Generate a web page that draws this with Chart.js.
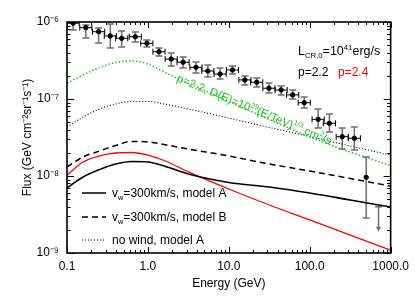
<!DOCTYPE html>
<html>
<head>
<meta charset="utf-8">
<script src="https://cdn.jsdelivr.net/npm/chart.js@4.4.0/dist/chart.umd.min.js"></script>
<style>
  html, body { margin: 0; padding: 0; background: #fff; }
</style>
</head>
<body>
<canvas id="fluxChart" width="415" height="297"></canvas>
<script>
// model curves, sampled on one energy grid (GeV)
const energyGrid = [0.1, 0.158, 0.251, 0.398, 0.631, 1.0, 1.585, 3.162, 10, 31.62, 100, 316.2, 1000];
const fluxWindA = [6.98e-9, 9.70e-9, 1.21e-8, 1.43e-8, 1.54e-8, 1.52e-8, 1.35e-8, 1.06e-8, 8.24e-9, 7.19e-9, 6.01e-9, 4.88e-9, 3.95e-9];
const fluxWindB = [1.31e-8, 1.77e-8, 2.11e-8, 2.49e-8, 2.81e-8, 2.77e-8, 2.56e-8, 2.24e-8, 1.82e-8, 1.43e-8, 1.16e-8, 9.29e-9, 7.41e-9];
const fluxNoWindA = [4.33e-8, 5.83e-8, 7.41e-8, 8.61e-8, 9.29e-8, 9.29e-8, 8.61e-8, 7.41e-8, 5.66e-8, 4.27e-8, 3.26e-8, 2.45e-8, 1.87e-8];
const fluxWindA24 = [1.03e-8, 1.52e-8, 1.82e-8, 1.99e-8, 2.02e-8, 1.87e-8, 1.59e-8, 1.13e-8, 6.78e-9, 4.20e-9, 2.69e-9, 1.71e-9, 1.09e-9];
const fluxNoWindD29 = [1.61e-7, 2.05e-7, 2.56e-7, 2.98e-7, 3.12e-7, 2.85e-7, 2.24e-7, 1.61e-7, 9.30e-8, 5.43e-8, 3.21e-8, 2.05e-8, 1.37e-8];

// measured points
const obsEnergy = [0.119, 0.171, 0.246, 0.343, 0.474, 0.698, 0.97, 1.37, 1.94, 2.72, 3.93, 5.5, 7.8, 11.1, 15.8, 22.1, 31.3, 44.3, 61.5, 85.5, 127, 175, 252, 356, 499];
const obsFlux = [9.62e-7, 8.44e-7, 7.48e-7, 6.58e-7, 6.14e-7, 6.44e-7, 5.28e-7, 4.11e-7, 3.30e-7, 3.00e-7, 2.58e-7, 2.31e-7, 2.11e-7, 2.38e-7, 1.77e-7, 1.65e-7, 1.38e-7, 1.31e-7, 1.13e-7, 8.95e-8, 5.44e-8, 4.83e-8, 3.24e-8, 3.09e-8, 9.62e-9];
const obsFluxHi = [1.03e-6, 9.14e-7, 8.36e-7, 9.42e-7, 7.64e-7, 7.41e-7, 5.83e-7, 4.59e-7, 3.95e-7, 3.51e-7, 3.03e-7, 2.77e-7, 2.53e-7, 2.68e-7, 1.99e-7, 1.87e-7, 1.61e-7, 1.48e-7, 1.31e-7, 1.06e-7, 7.41e-8, 6.38e-8, 4.20e-8, 4.33e-8, 1.77e-8];
const obsFluxLo = [7.87e-7, 6.19e-7, 5.34e-7, 4.59e-7, 4.73e-7, 5.50e-7, 4.73e-7, 3.61e-7, 2.68e-7, 2.53e-7, 2.18e-7, 1.93e-7, 1.82e-7, 2.11e-7, 1.52e-7, 1.43e-7, 1.20e-7, 1.13e-7, 1.00e-7, 7.64e-8, 4.20e-8, 3.72e-8, 2.24e-8, 2.18e-8, 2.85e-9];
const obsBinHalf = [0.075, 0.075, 0.075, 0.075, 0.075, 0.075, 0.075, 0.075, 0.075, 0.075, 0.075, 0.075, 0.075, 0.075, 0.075, 0.075, 0.075, 0.075, 0.075, 0.075, 0.075, 0.075, 0.075, 0.075, 0]; // dex

// upper limit
const ulEnergy = [708];
const ulFluxTop = [3.99e-9];
const ulFluxEnd = [1.95e-9];

const xTickValues = [0.1, 1, 10, 100, 1000];
const xTickLabels = ['0.1', '1.0', '10.0', '100.0', '1000.0'];
const yTickValues = [1e-9, 1e-8, 1e-7, 1e-6];
const yTickLabels = ['10\u207B\u2079', '10\u207B\u2078', '10\u207B\u2077', '10\u207B\u2076'];

const FONT = "'Liberation Sans', Arial, sans-serif";
const GREEN = '#1ec41e';

function pts(ys) { return energyGrid.map((e, i) => ({x: e, y: ys[i]})); }

// draws text with sub/superscript parts, parts = [[text, mode]] mode 0 / 1 sup / -1 sub
function richText(ctx, x, y, parts, size, color) {
  ctx.fillStyle = color;
  ctx.textBaseline = 'alphabetic';
  ctx.textAlign = 'left';
  let cx = x;
  for (const [t, mode] of parts) {
    const s = mode ? size * 0.62 : size;
    ctx.font = s + 'px ' + FONT;
    const dy = mode === 1 ? -size * 0.42 : mode === -1 ? size * 0.22 : 0;
    ctx.fillText(t, cx, y + dy);
    cx += ctx.measureText(t).width;
  }
  return cx;
}

const errorBars = {
  id: 'errorBars',
  beforeDatasetsDraw(chart) {
    const {ctx, chartArea: a, scales: {x, y}} = chart;
    ctx.save();
    ctx.beginPath();
    ctx.rect(a.left, a.top, a.width, a.height);
    ctx.clip();
    for (let i = 0; i < obsEnergy.length; i++) {
      const px = x.getPixelForValue(obsEnergy[i]);
      const py = y.getPixelForValue(obsFlux[i]);
      const yh = y.getPixelForValue(obsFluxHi[i]);
      const yl = y.getPixelForValue(obsFluxLo[i]);
      ctx.strokeStyle = '#6e6e6e';
      ctx.lineWidth = 1.5;
      ctx.beginPath();
      ctx.moveTo(px, yh); ctx.lineTo(px, yl);
      ctx.moveTo(px - 3.5, yh); ctx.lineTo(px + 3.5, yh);
      ctx.moveTo(px - 3.5, yl); ctx.lineTo(px + 3.5, yl);
      ctx.stroke();
      if (obsBinHalf[i] > 0) {
        const f = Math.pow(10, obsBinHalf[i]);
        const x0 = x.getPixelForValue(obsEnergy[i] / f);
        const x1 = x.getPixelForValue(obsEnergy[i] * f);
        ctx.strokeStyle = '#000';
        ctx.lineWidth = 1;
        ctx.beginPath();
        ctx.moveTo(x0, py); ctx.lineTo(x1, py);
        ctx.moveTo(x0, py - 3); ctx.lineTo(x0, py + 3);
        ctx.moveTo(x1, py - 3); ctx.lineTo(x1, py + 3);
        ctx.stroke();
      }
    }
    for (let i = 0; i < ulEnergy.length; i++) {
      const px = x.getPixelForValue(ulEnergy[i]);
      const yt = y.getPixelForValue(ulFluxTop[i]);
      const yb = y.getPixelForValue(ulFluxEnd[i]);
      ctx.strokeStyle = '#6e6e6e';
      ctx.fillStyle = '#6e6e6e';
      ctx.lineWidth = 1.5;
      ctx.beginPath();
      ctx.moveTo(px - 3.5, yt); ctx.lineTo(px + 3.5, yt);
      ctx.moveTo(px, yt); ctx.lineTo(px, yb - 3);
      ctx.stroke();
      ctx.beginPath();
      ctx.moveTo(px - 2.5, yb - 4); ctx.lineTo(px + 2.5, yb - 4); ctx.lineTo(px, yb + 1);
      ctx.closePath();
      ctx.fill();
    }
    ctx.restore();
  }
};

const frameAndText = {
  id: 'frameAndText',
  afterDraw(chart) {
    const {ctx, chartArea: a, scales: {x, y}} = chart;
    ctx.save();
    // inward ticks on all four sides
    ctx.strokeStyle = '#000';
    ctx.lineWidth = 1;
    ctx.beginPath();
    for (let d = -1; d <= 3; d++) {
      for (let m = 1; m <= 9; m++) {
        const v = m * Math.pow(10, d);
        if (v > 1000.001) continue;
        const px = Math.round(x.getPixelForValue(v)) + 0.5;
        const len = m === 1 ? 6 : 3;
        ctx.moveTo(px, a.bottom); ctx.lineTo(px, a.bottom - len);
        ctx.moveTo(px, a.top); ctx.lineTo(px, a.top + len);
      }
    }
    for (let d = -9; d <= -6; d++) {
      for (let m = 1; m <= 9; m++) {
        const v = m * Math.pow(10, d);
        if (v > 1.0001e-6) continue;
        const py = Math.round(y.getPixelForValue(v)) + 0.5;
        const len = m === 1 ? 7 : 3.5;
        ctx.moveTo(a.left, py); ctx.lineTo(a.left + len, py);
        ctx.moveTo(a.right, py); ctx.lineTo(a.right - len, py);
      }
    }
    ctx.stroke();
    ctx.lineWidth = 1.6;
    ctx.strokeRect(a.left, a.top, a.width, a.height);

    // legend, lower left
    const legend = [
      {dash: [], text: [['v', 0], ['w', -1], ['=300km/s, model A', 0]]},
      {dash: [6, 4], text: [['v', 0], ['w', -1], ['=300km/s, model B', 0]]},
      {dash: [1, 2], text: [['no wind, model A', 0]], thin: true}
    ];
    const rowY = [193, 217, 240];
    legend.forEach((row, i) => {
      ctx.strokeStyle = '#000';
      ctx.lineWidth = row.thin ? 1 : 1.5;
      ctx.setLineDash(row.dash);
      ctx.beginPath();
      ctx.moveTo(82, rowY[i]); ctx.lineTo(106, rowY[i]);
      ctx.stroke();
      ctx.setLineDash([]);
      richText(ctx, 112, rowY[i] + 4, row.text, 12, '#000');
    });

    // labels top right
    richText(ctx, 298, 55, [['L', 0], ['CR,0', -1], ['=10', 0], ['41', 1], ['erg/s', 0]], 12.5, '#000');
    richText(ctx, 298, 76, [['p=2.2', 0]], 12, '#000');
    richText(ctx, 338, 76, [['p=2.4', 0]], 12, '#ff0000');

    // text along the green curve
    ctx.translate(176, 81);
    ctx.rotate(22.5 * Math.PI / 180);
    richText(ctx, 0, 0, [['p=2.2, D(E)=10', 0], ['29', 1], ['(E/TeV)', 0], ['1/3', 1], [' cm', 0], ['2', 1], ['/s', 0]], 11.5, GREEN);
    ctx.restore();
  }
};

new Chart(document.getElementById('fluxChart'), {
  type: 'line',
  data: {
    datasets: [
      {data: pts(fluxNoWindD29), borderColor: GREEN, borderWidth: 1.5, borderDash: [1.5, 2]},
      {data: pts(fluxNoWindA), borderColor: '#000', borderWidth: 1.1, borderDash: [1, 2]},
      {data: pts(fluxWindB), borderColor: '#000', borderWidth: 1.5, borderDash: [6, 4]},
      {data: pts(fluxWindA), borderColor: '#000', borderWidth: 1.6},
      {data: pts(fluxWindA24), borderColor: '#ff0000', borderWidth: 1.3},
      {
        type: 'scatter',
        data: obsEnergy.map((e, i) => ({x: e, y: obsFlux[i]})),
        pointRadius: 2.2,
        pointBackgroundColor: '#000',
        pointBorderColor: '#000',
        showLine: false
      }
    ]
  },
  options: {
    responsive: false,
    animation: false,
    events: [],
    elements: {
      point: {radius: 0},
      line: {cubicInterpolationMode: 'monotone', fill: false}
    },
    layout: {padding: {left: 0, right: 21, top: 22, bottom: 0}},
    plugins: {legend: {display: false}, tooltip: {enabled: false}},
    scales: {
      x: {
        type: 'logarithmic',
        min: 0.1,
        max: 1000,
        afterBuildTicks: s => { s.ticks = xTickValues.map(v => ({value: v})); },
        afterFit: s => { s.height = 44; },
        grid: {display: false, drawTicks: false, tickLength: 0},
        border: {display: false},
        ticks: {
          autoSkip: false,
          maxRotation: 0,
          padding: 6,
          color: '#000',
          font: {family: FONT, size: 12},
          callback: (v, i) => xTickLabels[i]
        },
        title: {
          display: true,
          text: 'Energy (GeV)',
          color: '#000',
          font: {family: FONT, size: 12},
          padding: {top: 0, bottom: 6}
        }
      },
      y: {
        type: 'logarithmic',
        min: 1e-9,
        max: 1e-6,
        afterBuildTicks: s => { s.ticks = yTickValues.map(v => ({value: v})); },
        afterFit: s => { s.width = 67; },
        grid: {display: false, drawTicks: false, tickLength: 0},
        border: {display: false},
        ticks: {
          autoSkip: false,
          padding: 8,
          color: '#000',
          font: {family: FONT, size: 12},
          callback: (v, i) => yTickLabels[i]
        },
        title: {
          display: true,
          text: 'Flux (GeV cm\u207B\u00B2sr\u207B\u00B9s\u207B\u00B9)',
          color: '#000',
          font: {family: FONT, size: 12},
          padding: {top: 20, bottom: 0}
        }
      }
    }
  },
  plugins: [errorBars, frameAndText]
});
</script>
</body>
</html>
